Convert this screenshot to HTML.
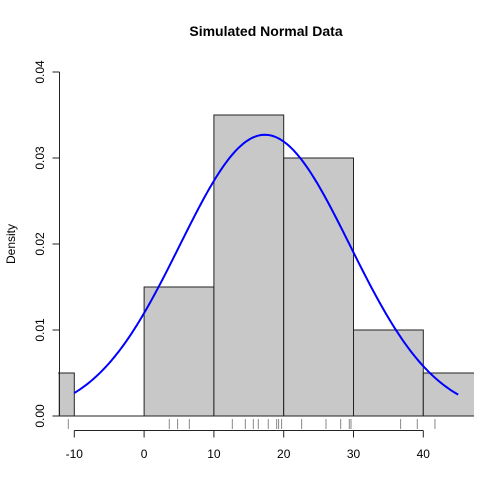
<!DOCTYPE html>
<html><head><meta charset="utf-8"><style>
html,body{margin:0;padding:0;background:#fff}
svg{display:block;font-family:"Liberation Sans",Arial,sans-serif}
</style></head><body>
<svg id="chart" width="504" height="504">
<text x="266" y="36" text-anchor="middle" font-size="14" font-weight="bold">Simulated Normal Data</text>
<text transform="translate(15,244) rotate(-90)" text-anchor="middle" font-size="12">Density</text>
<defs><clipPath id="plotclip"><rect x="58" y="60" width="416" height="372"/></clipPath></defs>
<g id="bars" clip-path="url(#plotclip)"></g>
<g id="curve" clip-path="url(#plotclip)"></g>
<g id="rug"></g>
<g id="xaxis"></g>
<g id="yaxis"></g>
</svg>
<script>
const binStarts = [-20, -10, 0, 10, 20, 30, 40];
const binDensities = [0.005, 0, 0.015, 0.035, 0.03, 0.01, 0.005];
const rugValues = [-10.86, 3.61, 4.80, 6.48, 12.64, 14.50, 15.65, 16.36, 17.79, 18.99, 19.27, 19.70, 22.57, 26.06, 28.16, 29.40, 29.64, 36.75, 39.14, 41.67];
const xTicks = [-10, 0, 10, 20, 30, 40];
const yTicks = [0, 0.01, 0.02, 0.03, 0.04];
const yTickLabels = ["0.00", "0.01", "0.02", "0.03", "0.04"];
const curveMean = [17.3];
const curveSd = [12.2];
const curveRange = [-10, 45];
const binWidth = 10;

const NS = "http://www.w3.org/2000/svg";
const xs = v => 74.3 + (v + 10) * 6.98;
const ys = v => 416 - v * 8600;
function mk(tag, attrs, parent) {
  const e = document.createElementNS(NS, tag);
  for (const k in attrs) e.setAttribute(k, attrs[k]);
  parent.appendChild(e);
  return e;
}
const bars = document.getElementById('bars');
binStarts.forEach((b, i) => {
  const x0 = xs(b), x1 = xs(b + binWidth), y = ys(binDensities[i]), y0 = ys(0);
  const r = mk('path', {d: `M${x0},${y0}L${x0},${y}L${x1},${y}L${x1},${y0}Z`, fill: '#c8c8c8', stroke: '#222', 'stroke-width': 1}, bars);
  
  
});
const cg = document.getElementById('curve');
let d = '';
for (let i = 0; i <= 200; i++) {
  const v = curveRange[0] + (curveRange[1] - curveRange[0]) * i / 200;
  const m = curveMean[0], s = curveSd[0];
  const p = Math.exp(-0.5 * ((v - m) / s) ** 2) / (s * Math.sqrt(2 * Math.PI));
  d += (i ? 'L' : 'M') + xs(v).toFixed(2) + ',' + ys(p).toFixed(2);
}
const path = mk('path', {d: d, fill: 'none', stroke: '#0000ff', 'stroke-width': 2}, cg);


const rug = document.getElementById('rug');
rugValues.forEach(v => {
  const l = mk('line', {x1: xs(v), x2: xs(v), y1: 419, y2: 429, stroke: '#888', 'stroke-width': 1}, rug);
  
  
});
const xa = document.getElementById('xaxis');
mk('line', {x1: xs(xTicks[0]), x2: xs(xTicks[xTicks.length - 1]), y1: 430.5, y2: 430.5, stroke: '#222'}, xa);
xTicks.forEach(t => {
  mk('line', {x1: xs(t), x2: xs(t), y1: 430.5, y2: 437.5, stroke: '#222'}, xa);
  const tx = mk('text', {x: xs(t), y: 458, 'text-anchor': 'middle', 'font-size': 12}, xa);
  tx.textContent = t;
  
  
});
const ya = document.getElementById('yaxis');
mk('line', {x1: 59.5, x2: 59.5, y1: ys(yTicks[0]), y2: ys(yTicks[yTicks.length - 1]), stroke: '#222'}, ya);
yTicks.forEach((t, i) => {
  mk('line', {x1: 52.5, x2: 59.5, y1: ys(t), y2: ys(t), stroke: '#222'}, ya);
  const tx = mk('text', {transform: `translate(44,${ys(t)}) rotate(-90)`, 'text-anchor': 'middle', 'font-size': 12}, ya);
  tx.textContent = yTickLabels[i];
  
  
});
</script>
</body></html>
